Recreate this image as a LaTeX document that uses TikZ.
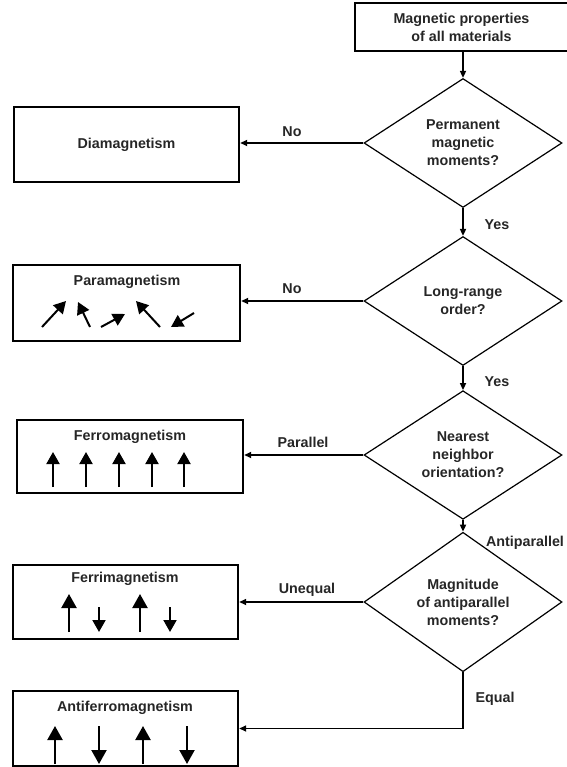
\documentclass[tikz,border=0pt]{standalone}
\usepackage{fontspec}
\setmainfont{Liberation Sans}
\usetikzlibrary{shapes.geometric,arrows.meta}
\begin{document}
\begin{tikzpicture}[x=1pt,y=-1pt,
  every node/.style={font=\fontsize{14.3}{18}\selectfont\bfseries, text=black!85},
  box/.style={draw, line width=2.4pt, minimum width=#1, inner sep=0pt},
  dec/.style={diamond, draw, line width=1.2pt, minimum width=198pt, inner sep=0pt, align=center},
  conn/.style={line width=1.6pt, -{Triangle[length=7pt,width=6pt]}},
  spin/.style={line width=2pt, -{Triangle[length=12pt,width=13pt]}},
  bigspin/.style={line width=2.2pt, -{Triangle[length=14pt,width=15pt]}},
  lab/.style={inner sep=0pt}]
\useasboundingbox (0,0) rectangle (566,767);
% top box
\node[box=213pt, minimum height=48pt, align=center] (top) at (461.5,27) {Magnetic properties\\of all materials};
% decisions
\node[dec, minimum height=129pt] (d1) at (463,143) {Permanent\\magnetic\\moments?};
\node[dec, minimum height=129pt] (d2) at (463,301) {Long-range\\order?};
\node[dec, minimum height=120pt] (d3) at (463,455) {Nearest\\neighbor\\orientation?};
\node[dec, minimum height=114pt] (d4) at (463,602) {Magnitude\\of antiparallel\\moments?};
% result boxes
\node[box=225pt, minimum height=75pt] (dia) at (126.5,144.5) {Diamagnetism};
\node[box=227pt, minimum height=76pt] (para) at (126.5,303) {};
\node[box=226pt, minimum height=73pt] (ferro) at (130,456.5) {};
\node[box=225pt, minimum height=74pt] (ferri) at (125.5,602) {};
\node[box=225pt, minimum height=75pt] (anti) at (125.5,728.5) {};
\node[lab] (tpara) at (127,282) {Paramagnetism};
\node[lab] (tferro) at (130,437) {Ferromagnetism};
\node[lab] (tferri) at (125,579) {Ferrimagnetism};
\node[lab] (tanti) at (125,708) {Antiferromagnetism};
% connectors
\draw[conn] (d1.north |- top.south) -- (d1.north);
\draw[conn] (d1.south) -- (d2.north);
\draw[conn] (d2.south) -- (d3.north);
\draw[conn] (d3.south) -- (d4.north);
\draw[conn] (d1.west) -- (dia.east |- d1.west);
\draw[conn] (d2.west) -- (para.east |- d2.west);
\draw[conn] (d3.west) -- (ferro.east |- d3.west);
\draw[conn] (d4.west) -- (ferri.east |- d4.west);
\draw[conn] (d4.south) |- (anti.east);
% connector labels
\node[lab] (lno1) at (292,132) {No};
\node[lab] (lyes1) at (497,225) {Yes};
\node[lab] (lno2) at (292,289) {No};
\node[lab] (lyes2) at (497,382) {Yes};
\node[lab] (lpar) at (303,442) {Parallel};
\node[lab] (lanti) at (525,543) {Antiparallel};
\node[lab] (luneq) at (307,590) {Unequal};
\node[lab] (leq) at (495,699) {Equal};
% paramagnetism spins
\draw[spin] (42,327) -- (66,301);
\draw[spin] (90,327) -- (78,302);
\draw[spin] (101,327) -- (125,314);
\draw[spin] (160,327) -- (136,301);
\draw[spin] (194,313) -- (171,327);
% ferromagnetism spins
\foreach \x in {53,86,119,152,184} \draw[spin] (\x,487) -- (\x,452);
% ferrimagnetism spins
\foreach \x in {69,140} \draw[bigspin] (\x,632) -- (\x,594);
\foreach \x in {99,170} \draw[spin] (\x,607) -- (\x,632);
% antiferromagnetism spins
\foreach \x in {55,143} \draw[bigspin] (\x,764) -- (\x,726);
\foreach \x in {99,187} \draw[bigspin] (\x,726) -- (\x,764);
\end{tikzpicture}
\end{document}
